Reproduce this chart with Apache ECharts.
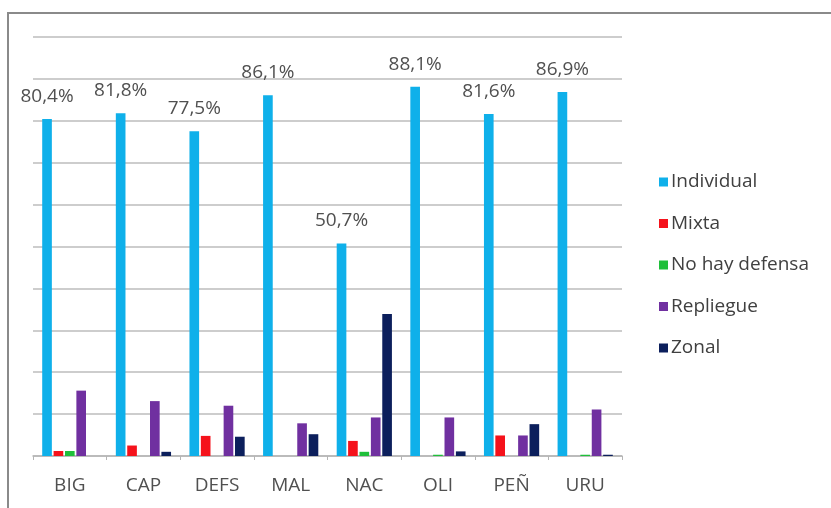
<!DOCTYPE html>
<html>
<head>
<meta charset="utf-8">
<script src="https://cdn.jsdelivr.net/npm/echarts@6/dist/echarts.min.js"></script>
<style>
  html, body { margin: 0; padding: 0; background: #fff; }
  #wrap { position: relative; width: 831px; height: 508px; overflow: hidden; }
  #frame {
    position: absolute; left: 7px; top: 12px; width: 900px; height: 600px;
    border-left: 2px solid #8a8a8a; border-top: 2px solid #8a8a8a;
  }
  #chart { position: absolute; left: 0; top: 0; width: 831px; height: 508px; }
</style>
</head>
<body>
<div id="wrap">
  <div id="frame"></div>
  <div id="chart"></div>
</div>
<script>
const categories = ['BIG', 'CAP', 'DEFS', 'MAL', 'NAC', 'OLI', 'PEÑ', 'URU']
const individual = [80.4, 81.8, 77.5, 86.1, 50.7, 88.1, 81.6, 86.9]
const mixta = [1.2, 2.5, 4.8, 0, 3.6, 0, 4.9, 0]
const noHayDefensa = [1.2, 0, 0, 0, 1.0, 0.3, 0, 0.3]
const repliegue = [15.6, 13.1, 12.0, 7.8, 9.2, 9.2, 4.9, 11.1]
const zonal = [0, 1.0, 4.6, 5.2, 33.9, 1.1, 7.6, 0.3]

const seriesNames = ['Individual', 'Mixta', 'No hay defensa', 'Repliegue', 'Zonal']
const seriesColors = ['#0fb0ea', '#f5121b', '#1fbf3a', '#7030a0', '#0c1f5c']
const seriesData = [individual, mixta, noHayDefensa, repliegue, zonal]

const font = '"Open Sans", "Noto Sans", sans-serif'
const textColor = '#505050'

const chart = echarts.init(document.getElementById('chart'), null, { renderer: 'canvas' })

chart.setOption({
  animation: false,
  backgroundColor: 'transparent',
  textStyle: { fontFamily: font },
  grid: { left: 33, right: 209, top: 37, bottom: 52, containLabel: false },
  legend: {
    orient: 'vertical',
    left: 654,
    top: 167,
    itemWidth: 9,
    itemHeight: 9,
    itemGap: 21.5,
    icon: 'rect',
    data: seriesNames,
    textStyle: { fontFamily: font, fontSize: 19, color: '#404040', lineHeight: 20, padding: [0, 0, 0, -2] }
  },
  xAxis: {
    type: 'category',
    data: categories,
    axisLine: { lineStyle: { color: '#b5b5b5', width: 1.5 } },
    axisTick: { show: true, length: 4, lineStyle: { color: '#b5b5b5' } },
    axisLabel: { color: textColor, fontSize: 19, margin: 20, fontFamily: font }
  },
  yAxis: {
    type: 'value',
    min: 0,
    max: 100,
    interval: 10,
    axisLine: { show: false },
    axisTick: { show: false },
    axisLabel: { show: false },
    splitLine: { lineStyle: { color: '#bcbcbc', width: 1.5 } }
  },
  series: seriesNames.map((name, i) => ({
    name,
    type: 'bar',
    data: seriesData[i],
    barCategoryGap: '25%',
    barGap: '18%',
    itemStyle: { color: seriesColors[i] },
    label: i === 0 ? {
      show: true,
      position: 'top',
      distance: 13,
      fontFamily: font,
      fontSize: 19,
      color: textColor,
      formatter: p => p.value.toFixed(1).replace('.', ',') + '%'
    } : { show: false }
  }))
})
</script>
</body>
</html>
